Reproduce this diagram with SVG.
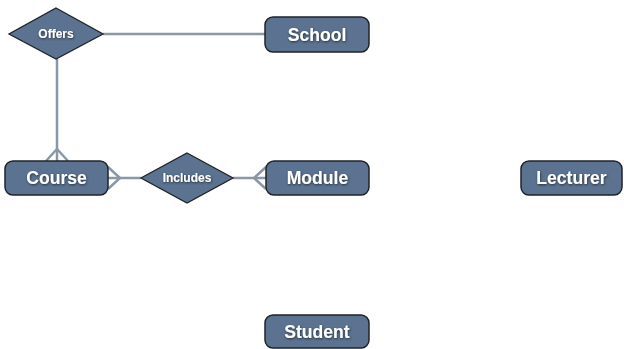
<svg xmlns="http://www.w3.org/2000/svg" width="624" height="349" viewBox="0 0 624 349">
  <defs>
    <style>
      .entity rect { fill: #5b7390; stroke: #1f2328; stroke-width: 1.5; }
      .rel polygon { fill: #5b7390; stroke: #1f2328; stroke-width: 1.3; }
      .label { fill: #ffffff; font-family: "Liberation Sans", Arial, sans-serif; font-weight: bold; text-anchor: middle; dominant-baseline: central; filter: url(#shadow); }
      .entity .label { font-size: 17.6px; }
      .rel .label { font-size: 12px; }
      .conn { stroke: #8a97a6; stroke-width: 2.5; fill: none; stroke-linecap: butt; }
    </style>
    <filter id="shadow" x="-20%" y="-30%" width="140%" height="160%">
      <feDropShadow dx="0.5" dy="1" stdDeviation="0.8" flood-color="#1a2230" flood-opacity="0.9"/>
    </filter>
  </defs>
  <rect width="624" height="349" fill="#ffffff"/>

  <!-- connectors -->
  <g id="connectors">
    <!-- Offers - School -->
    <line class="conn" x1="103" y1="34" x2="265" y2="34"/>
    <!-- Offers - Course (many) -->
    <line class="conn" x1="57" y1="59" x2="57" y2="161"/>
    <polyline class="conn" points="46,161 57,149 68,161"/>
    <!-- Includes - Course (many) -->
    <line class="conn" x1="141" y1="178" x2="108" y2="178"/>
    <polyline class="conn" points="108,167 120,178 108,189"/>
    <!-- Includes - Module (many) -->
    <line class="conn" x1="233" y1="178" x2="266" y2="178"/>
    <polyline class="conn" points="266,167 254,178 266,189"/>
  </g>

  <!-- relationships -->
  <g id="offers" class="rel">
    <polygon points="56,8 103,34 56,59 9,34"/>
    <text class="label" x="56" y="34">Offers</text>
  </g>
  <g id="includes" class="rel">
    <polygon points="187,153 233,178 187,203 141,178"/>
    <text class="label" x="187" y="178">Includes</text>
  </g>

  <!-- entities -->
  <g id="school" class="entity">
    <rect x="265" y="17" width="104" height="35" rx="8"/>
    <text class="label" x="317" y="34.5">School</text>
  </g>
  <g id="course" class="entity">
    <rect x="5" y="161" width="103" height="34" rx="8"/>
    <text class="label" x="56.5" y="178">Course</text>
  </g>
  <g id="module" class="entity">
    <rect x="266" y="161" width="103" height="34" rx="8"/>
    <text class="label" x="317.5" y="178">Module</text>
  </g>
  <g id="lecturer" class="entity">
    <rect x="521" y="161" width="101" height="34" rx="8"/>
    <text class="label" x="571.5" y="178">Lecturer</text>
  </g>
  <g id="student" class="entity">
    <rect x="265" y="315" width="104" height="33" rx="8"/>
    <text class="label" x="317" y="331.5">Student</text>
  </g>
</svg>
